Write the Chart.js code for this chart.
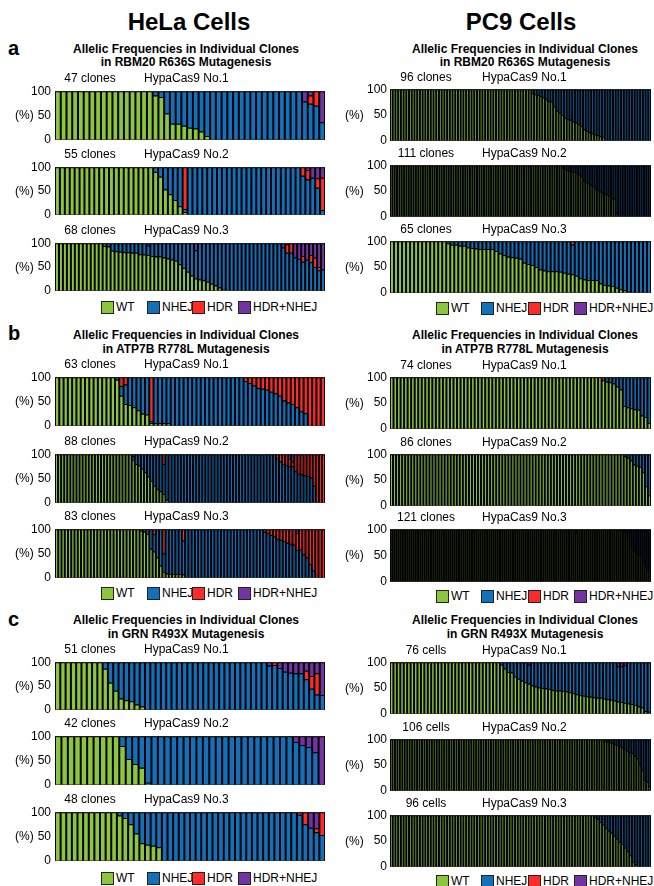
<!DOCTYPE html>
<html><head><meta charset="utf-8">
<script src="https://cdn.jsdelivr.net/npm/chart.js@4.4.1/dist/chart.umd.min.js"></script>
<style>
body{margin:0;width:654px;height:886px;background:#fff;position:relative;overflow:hidden;font-family:"Liberation Sans",Arial,Helvetica,sans-serif;color:#000}
.t{position:absolute;white-space:nowrap}
.box{position:absolute;width:11px;height:11px;border:1px solid #222}
canvas{position:absolute}
</style></head><body>
<script>
// ---------- DATA (percent of alleles per clone; order: WT, NHEJ, HDR, HDR+NHEJ) ----------
// HeLa, RBM20 R636S
const helaA1_wt = [
100,100,100,100,100,100,100,100,100,100,
100,100,100,100,100,100,100,91,88,54,
33,33,29,25,23,17,8,0,0,0,
0,0,0,0,0,0,0,0,0,0,
0,0,0,0,0,0,0];
const helaA1_nhej = [
0,0,0,0,0,0,0,0,0,0,
0,0,0,0,0,0,0,9,12,46,
67,67,71,75,77,83,92,100,100,100,
100,100,100,100,100,100,100,100,100,100,
100,100,100,79,74,70,36];
const helaA1_hdr = [
0,0,0,0,0,0,0,0,0,0,
0,0,0,0,0,0,0,0,0,0,
0,0,0,0,0,0,0,0,0,0,
0,0,0,0,0,0,0,0,0,0,
0,0,0,0,17,30,0];
const helaA1_hn = [
0,0,0,0,0,0,0,0,0,0,
0,0,0,0,0,0,0,0,0,0,
0,0,0,0,0,0,0,0,0,0,
0,0,0,0,0,0,0,0,0,0,
0,0,0,21,9,0,64];

const helaA2_wt = [
100,100,100,100,100,100,100,100,100,100,
100,100,100,100,100,100,100,100,100,100,
90,80,53,43,31,18,6,0,0,0,
0,0,0,0,0,0,0,0,0,0,
0,0,0,0,0,0,0,0,0,0,
0,0,0,0,0];
const helaA2_nhej = [
0,0,0,0,0,0,0,0,0,0,
0,0,0,0,0,0,0,0,0,0,
10,20,47,57,69,82,6,100,100,100,
100,100,100,100,100,100,100,100,100,100,
100,100,100,100,100,100,100,100,100,100,
82,74,78,57,10];
const helaA2_hdr = [
0,0,0,0,0,0,0,0,0,0,
0,0,0,0,0,0,0,0,0,0,
0,0,0,0,0,0,88,0,0,0,
0,0,0,0,0,0,0,0,0,0,
0,0,0,0,0,0,0,0,0,0,
18,20,0,20,68];
const helaA2_hn = [
0,0,0,0,0,0,0,0,0,0,
0,0,0,0,0,0,0,0,0,0,
0,0,0,0,0,0,0,0,0,0,
0,0,0,0,0,0,0,0,0,0,
0,0,0,0,0,0,0,0,0,0,
0,6,22,23,22];

const helaA3_wt = [
100,100,100,100,100,100,100,100,100,100,
100,100,94,93,84,83,82,81,81,80,
80,77,76,75,73,72,72,70,68,66,
63,56,48,40,32,26,24,22,19,15,
11,7,4,0,0,0,0,0,0,0,
0,0,0,0,0,0,0,0,0,0,
0,0,0,0,0,0,0,0];
const helaA3_nhej = [
0,0,0,0,0,0,0,0,0,0,
0,0,6,7,16,17,18,19,19,20,
20,23,24,20,27,28,28,30,32,34,
37,44,52,60,68,59,76,78,81,85,
89,93,96,100,100,100,100,100,100,100,
100,100,100,100,100,100,100,91,80,80,
70,67,61,65,60,50,43,45];
const helaA3_hdr = [
0,0,0,0,0,0,0,0,0,0,
0,0,0,0,0,0,0,0,0,0,
0,0,0,0,0,0,0,0,0,0,
0,0,0,0,0,0,0,0,0,0,
0,0,0,0,0,0,0,0,0,0,
0,0,0,0,0,0,0,0,18,20,
0,0,12,0,15,20,7,0];
const helaA3_hn = [
0,0,0,0,0,0,0,0,0,0,
0,0,0,0,0,0,0,0,0,0,
0,0,0,5,0,0,0,0,0,0,
0,0,0,0,0,15,0,0,0,0,
0,0,0,0,0,0,0,0,0,0,
0,0,0,0,0,0,0,9,2,0,
30,33,27,35,25,30,50,55];

// PC9, RBM20 R636S
const pc9A1_wt = [
100,100,100,100,100,100,100,100,100,100,
100,100,100,100,100,100,100,100,100,100,
100,100,100,100,100,100,100,100,100,100,
100,100,100,100,100,100,100,100,100,100,
100,100,100,100,100,100,100,100,100,100,
100,100,92,90,89,87,84,80,77,76,
66,58,55,50,44,42,41,38,35,32,
28,22,19,16,14,12,11,9,7,0,
0,0,0,0,0,0,0,0,0,0,
0,0,0,0,0,0];
const pc9A1_nhej = [
0,0,0,0,0,0,0,0,0,0,
0,0,0,0,0,0,0,0,0,0,
0,0,0,0,0,0,0,0,0,0,
0,0,0,0,0,0,0,0,0,0,
0,0,0,0,0,0,0,0,0,0,
0,0,8,10,11,13,16,20,23,24,
34,42,45,50,56,58,59,62,65,68,
72,78,81,84,86,88,89,91,93,100,
100,100,100,100,100,100,100,100,100,100,
100,100,100,100,100,100];

const pc9A2_wt = [
100,100,100,100,100,100,100,100,100,100,
100,100,100,100,100,100,100,100,100,100,
100,100,100,100,100,100,100,100,100,100,
100,100,100,100,100,100,100,100,100,100,
100,100,100,100,100,100,100,100,100,100,
100,100,100,100,100,100,100,100,100,100,
100,100,100,100,100,100,100,100,100,100,
100,100,100,95,92,90,89,88,87,85,
82,78,70,67,64,62,59,55,52,49,
46,45,43,41,36,35,7,0,0,0,
0,0,0,0,0,0,0,0,0,0,
0];
const pc9A2_nhej = [
0,0,0,0,0,0,0,0,0,0,
0,0,0,0,0,0,0,0,0,0,
0,0,0,0,0,0,0,0,0,0,
0,0,0,0,0,0,0,0,0,0,
0,0,0,0,0,0,0,0,0,0,
0,0,0,0,0,0,0,0,0,0,
0,0,0,0,0,0,0,0,0,0,
0,0,0,5,8,10,11,12,13,15,
18,22,30,33,36,38,41,45,48,51,
54,55,57,59,64,65,93,100,100,100,
100,100,100,100,100,100,100,100,100,100,
100];

const pc9A3_wt = [
100,100,100,100,100,100,100,100,100,100,
100,100,100,100,96,93,93,91,91,88,
87,86,85,85,85,85,81,76,73,70,
69,68,66,58,56,54,50,45,43,42,
42,42,41,39,37,36,33,28,26,25,
25,25,18,15,14,13,10,7,5,2,
0,0,0,0,0];
const pc9A3_nhej = [
0,0,0,0,0,0,0,0,0,0,
0,0,0,0,4,7,7,9,9,12,
13,14,15,15,15,15,19,24,27,30,
31,32,34,42,44,46,50,55,57,58,
58,58,59,61,63,57,67,72,74,75,
75,75,82,85,86,87,90,93,95,98,
100,100,100,100,100];
const pc9A3_hdr = [
0,0,0,0,0,0,0,0,0,0,
0,0,0,0,0,0,0,0,0,0,
0,0,0,0,0,0,0,0,0,0,
0,0,0,0,0,0,0,0,0,0,
0,0,0,0,0,7,0,0,0,0,
0,0,0,0,0,0,0,0,0,0,
0,0,0,0,0];

// HeLa, ATP7B R778L
const helaB1_wt = [
100,100,100,100,100,100,100,100,100,100,
100,100,100,100,95,62,45,43,38,32,
25,23,6,5,5,5,5,0,0,0,
0,0,0,0,0,0,0,0,0,0,
0,0,0,0,0,0,0,0,0,0,
0,0,0,0,0,0,0,0,0,0,
0,0,0];
const helaB1_nhej = [
0,0,0,0,0,0,0,0,0,0,
0,0,0,0,5,20,40,57,62,68,
75,77,4,95,95,95,95,100,100,100,
100,100,100,100,100,100,100,100,100,100,
100,100,100,100,92,88,83,78,76,74,
70,67,62,52,48,45,38,30,26,0,
0,0,0];
const helaB1_hdr = [
0,0,0,0,0,0,0,0,0,0,
0,0,0,0,0,18,15,0,0,0,
0,0,90,0,0,0,0,0,0,0,
0,0,0,0,0,0,0,0,0,0,
0,0,0,0,8,12,17,22,24,26,
30,33,38,48,52,55,62,70,74,100,
100,100,100];

const helaB2_wt = [
100,100,100,100,100,100,100,100,100,100,
100,100,100,100,100,100,100,100,100,100,
100,100,100,100,100,88,80,77,70,63,
54,45,35,28,24,18,7,0,0,0,
0,0,0,0,0,0,0,0,0,0,
0,0,0,0,0,0,0,0,0,0,
0,0,0,0,0,0,0,0,0,0,
0,0,0,0,0,0,0,0,0,0,
0,0,0,0,0,0,0,0];
const helaB2_nhej = [
0,0,0,0,0,0,0,0,0,0,
0,0,0,0,0,0,0,0,0,0,
0,0,0,0,0,8,20,23,30,37,
46,55,65,72,76,62,93,100,100,100,
100,100,100,100,100,100,100,100,100,100,
100,100,100,100,100,100,100,100,100,100,
100,100,100,100,100,100,100,100,100,100,
100,100,92,85,80,78,75,75,65,60,
58,56,55,52,35,0,0,0];
const helaB2_hdr = [
0,0,0,0,0,0,0,0,0,0,
0,0,0,0,0,0,0,0,0,0,
0,0,0,0,0,0,0,0,0,0,
0,0,0,0,0,20,0,0,0,0,
0,0,0,0,0,0,0,0,0,0,
0,0,0,0,0,0,0,0,0,0,
0,0,0,0,0,0,0,0,0,0,
0,0,8,15,20,22,15,10,35,40,
42,44,45,48,65,100,100,100];
const helaB2_hn = [
0,0,0,0,0,0,0,0,0,0,
0,0,0,0,0,0,0,0,0,0,
0,0,0,0,0,4,0,0,0,0,
0,0,0,0,0,0,0,0,0,0,
0,0,0,0,0,0,0,0,0,0,
0,0,0,0,0,0,0,0,0,0,
0,0,0,0,0,0,0,0,0,0,
0,0,0,0,0,0,10,15,0,0,
0,0,0,0,0,0,0,0];

const helaB3_wt = [
100,100,100,100,100,100,100,100,100,100,
100,100,100,100,100,100,100,100,100,100,
100,100,100,100,100,100,97,95,90,60,
54,42,25,12,9,8,8,8,8,7,
0,0,0,0,0,0,0,0,0,0,
0,0,0,0,0,0,0,0,0,0,
0,0,0,0,0,0,0,0,0,0,
0,0,0,0,0,0,0,0,0,0,
0,0,0];
const helaB3_nhej = [
0,0,0,0,0,0,0,0,0,0,
0,0,0,0,0,0,0,0,0,0,
0,0,0,0,0,0,3,5,10,40,
36,58,75,38,91,92,92,92,92,70,
100,100,100,100,100,100,100,100,100,100,
100,100,100,100,100,100,100,100,100,100,
100,100,100,100,95,92,88,85,80,78,
75,72,70,68,57,58,48,42,28,15,
0,0,0];
const helaB3_hdr = [
0,0,0,0,0,0,0,0,0,0,
0,0,0,0,0,0,0,0,0,0,
0,0,0,0,0,0,0,0,0,0,
10,0,0,50,0,0,0,0,0,23,
0,0,0,0,0,0,0,0,0,0,
0,0,0,0,0,0,0,0,0,0,
0,0,0,0,5,8,12,15,20,22,
25,28,30,32,35,42,52,58,72,85,
100,100,100];
const helaB3_hn = [
0,0,0,0,0,0,0,0,0,0,
0,0,0,0,0,0,0,0,0,0,
0,0,0,0,0,0,0,0,0,0,
0,0,0,0,0,0,0,0,0,0,
0,0,0,0,0,0,0,0,0,0,
0,0,0,0,0,0,0,0,0,0,
0,0,0,0,0,0,0,0,0,0,
0,0,0,0,8,0,0,0,0,0,
0,0,0];

// PC9, ATP7B R778L
const pc9B1_wt = [
100,100,100,100,100,100,100,100,100,100,
100,100,100,100,100,100,100,100,100,100,
100,100,100,100,100,100,100,100,100,100,
100,100,100,100,100,100,100,100,100,100,
100,100,100,100,100,100,100,100,100,100,
100,100,100,100,100,100,100,100,100,100,
94,91,90,88,82,76,44,42,40,38,
37,26,23,11];
const pc9B1_nhej = [
0,0,0,0,0,0,0,0,0,0,
0,0,0,0,0,0,0,0,0,0,
0,0,0,0,0,0,0,0,0,0,
0,0,0,0,0,0,0,0,0,0,
0,0,0,0,0,0,0,0,0,0,
0,0,0,0,0,0,0,0,0,0,
0,9,10,12,18,24,56,58,60,62,
63,74,77,89];
const pc9B1_hdr = [
0,0,0,0,0,0,0,0,0,0,
0,0,0,0,0,0,0,0,0,0,
0,0,0,0,0,0,0,0,0,0,
0,0,0,0,0,0,0,0,0,0,
0,0,0,0,0,0,0,0,0,0,
0,0,0,0,0,0,0,0,0,0,
6,0,0,0,0,0,0,0,0,0,
0,0,0,0];

const pc9B2_wt = [
100,100,100,100,100,100,100,100,100,100,
100,100,100,100,100,100,100,100,100,100,
100,100,100,100,100,100,100,100,100,100,
100,100,100,100,100,100,100,100,100,100,
100,100,100,100,100,100,100,100,100,100,
100,100,100,100,100,100,100,100,100,100,
100,100,100,100,100,100,100,100,100,100,
100,100,100,100,100,100,100,96,93,88,
80,77,75,65,38,20];
const pc9B2_nhej = [
0,0,0,0,0,0,0,0,0,0,
0,0,0,0,0,0,0,0,0,0,
0,0,0,0,0,0,0,0,0,0,
0,0,0,0,0,0,0,0,0,0,
0,0,0,0,0,0,0,0,0,0,
0,0,0,0,0,0,0,0,0,0,
0,0,0,0,0,0,0,0,0,0,
0,0,0,0,0,0,0,4,7,12,
20,23,25,35,62,80];

const pc9B3_wt = [
100,100,100,100,100,100,100,100,100,100,
100,100,100,100,100,100,100,100,100,100,
100,100,100,100,100,100,100,100,100,100,
100,100,100,100,100,100,100,100,100,100,
100,100,100,100,100,100,100,100,100,100,
100,100,100,100,100,100,100,100,100,100,
100,100,100,100,100,100,100,100,100,100,
100,100,100,100,100,100,100,100,100,100,
100,100,100,100,100,100,94,100,100,100,
100,100,100,100,100,100,100,100,100,100,
100,100,100,100,100,100,100,100,97,92,
85,70,62,58,55,52,50,40,30,25,
22];
const pc9B3_nhej = [
0,0,0,0,0,0,0,0,0,0,
0,0,0,0,0,0,0,0,0,0,
0,0,0,0,0,0,0,0,0,0,
0,0,0,0,0,0,0,0,0,0,
0,0,0,0,0,0,0,0,0,0,
0,0,0,0,0,0,0,0,0,0,
0,0,0,0,0,0,0,0,0,0,
0,0,0,0,0,0,0,0,0,0,
0,0,0,0,0,0,0,0,0,0,
0,0,0,0,0,0,0,0,0,0,
0,0,0,0,0,0,0,0,3,8,
15,30,38,42,45,48,50,60,70,75,
78];
const pc9B3_hdr = [
0,0,0,0,0,0,0,0,0,0,
0,0,0,0,0,0,0,0,0,0,
0,0,0,0,0,0,0,0,0,0,
0,0,0,0,0,0,0,0,0,0,
0,0,0,0,0,0,0,0,0,0,
0,0,0,0,0,0,0,0,0,0,
0,0,0,0,0,0,0,0,0,0,
0,0,0,0,0,0,0,0,0,0,
0,0,0,0,0,0,6,0,0,0,
0,0,0,0,0,0,0,0,0,0,
0,0,0,0,0,0,0,0,0,0,
0,0,0,0,0,0,0,0,0,0,
0];

// HeLa, GRN R493X
const helaC1_wt = [
100,100,100,100,100,100,100,100,100,86,
57,40,24,20,18,11,7,0,0,0,
0,0,0,0,0,0,0,0,0,0,
0,0,0,0,0,0,0,0,0,0,
0,0,0,0,0,0,0,0,0,0,
0];
const helaC1_nhej = [
0,0,0,0,0,0,0,0,0,14,
43,60,76,80,82,89,93,100,100,100,
100,100,100,100,100,100,100,100,100,100,
100,100,100,100,100,100,100,100,100,100,
93,94,88,80,78,77,77,64,44,32,
31];
const helaC1_hdr = [
0,0,0,0,0,0,0,0,0,0,
0,0,0,0,0,0,0,0,0,0,
0,0,0,0,0,0,0,0,0,0,
0,0,0,0,0,0,0,0,0,0,
0,6,0,0,0,0,0,18,27,45,
0];
const helaC1_hn = [
0,0,0,0,0,0,0,0,0,0,
0,0,0,0,0,0,0,0,0,0,
0,0,0,0,0,0,0,0,0,0,
0,0,0,0,0,0,0,0,0,0,
7,0,12,20,22,23,23,18,29,23,
69];

const helaC2_wt = [
100,100,100,100,100,100,100,100,100,100,
80,53,43,35,4,0,0,0,0,0,
0,0,0,0,0,0,0,0,0,0,
0,0,0,0,0,0,0,0,0,0,
0,0];
const helaC2_nhej = [
0,0,0,0,0,0,0,0,0,0,
20,47,57,65,96,100,100,100,100,100,
100,100,100,100,100,100,100,100,100,100,
100,100,100,100,100,100,100,88,82,78,
67,0];
const helaC2_hn = [
0,0,0,0,0,0,0,0,0,0,
0,0,0,0,0,0,0,0,0,0,
0,0,0,0,0,0,0,0,0,0,
0,0,0,0,0,0,0,12,18,22,
33,100];

const helaC3_wt = [
100,100,100,100,100,100,100,100,100,100,
100,93,88,75,56,36,33,31,28,0,
0,0,0,0,0,0,0,0,0,0,
0,0,0,0,0,0,0,0,0,0,
0,0,0,0,0,0,0,0];
const helaC3_nhej = [
0,0,0,0,0,0,0,0,0,0,
0,7,12,25,44,64,67,69,72,100,
100,100,100,100,100,100,100,100,100,100,
100,100,100,100,100,100,100,100,100,100,
100,100,100,95,75,68,59,53];
const helaC3_hdr = [
0,0,0,0,0,0,0,0,0,0,
0,0,0,0,0,0,0,0,0,0,
0,0,0,0,0,0,0,0,0,0,
0,0,0,0,0,0,0,0,0,0,
0,0,0,5,25,0,8,47];
const helaC3_hn = [
0,0,0,0,0,0,0,0,0,0,
0,0,0,0,0,0,0,0,0,0,
0,0,0,0,0,0,0,0,0,0,
0,0,0,0,0,0,0,0,0,0,
0,0,0,0,0,32,33,0];

// PC9, GRN R493X
const pc9C1_wt = [
100,100,100,100,100,100,100,100,100,100,
100,100,100,100,100,100,100,100,100,100,
100,100,100,100,100,100,100,100,100,100,
100,100,95,88,81,80,72,68,64,61,
58,55,53,51,50,49,48,46,45,45,
44,43,42,40,38,36,35,34,33,32,
31,31,29,28,27,26,24,23,21,20,
19,17,14,12,5,4];
const pc9C1_nhej = [
0,0,0,0,0,0,0,0,0,0,
0,0,0,0,0,0,0,0,0,0,
0,0,0,0,0,0,0,0,0,0,
0,0,5,12,19,20,28,32,36,39,
37,45,47,49,50,51,52,54,55,55,
56,57,58,60,62,64,65,66,67,68,
69,69,71,72,73,74,68,69,73,80,
81,83,86,88,95,96];
const pc9C1_hn = [
0,0,0,0,0,0,0,0,0,0,
0,0,0,0,0,0,0,0,0,0,
0,0,0,0,0,0,0,0,0,0,
0,0,0,0,0,0,0,0,0,0,
5,0,0,0,0,0,0,0,0,0,
0,0,0,0,0,0,0,0,0,0,
0,0,0,0,0,0,8,8,6,0,
0,0,0,0,0,0];

const pc9C2_wt = [
100,100,100,100,100,100,100,100,100,100,
100,100,100,100,100,100,100,100,100,100,
100,100,100,100,100,100,100,100,100,100,
100,100,100,100,100,100,100,100,100,100,
100,100,100,100,100,100,100,100,100,100,
100,100,100,100,100,100,100,100,100,100,
100,100,100,100,100,100,100,100,100,100,
100,100,100,100,100,100,100,100,100,100,
100,100,100,100,100,100,100,97,95,93,
92,90,89,86,84,81,77,75,73,68,
63,51,40,21,17,9];
const pc9C2_nhej = [
0,0,0,0,0,0,0,0,0,0,
0,0,0,0,0,0,0,0,0,0,
0,0,0,0,0,0,0,0,0,0,
0,0,0,0,0,0,0,0,0,0,
0,0,0,0,0,0,0,0,0,0,
0,0,0,0,0,0,0,0,0,0,
0,0,0,0,0,0,0,0,0,0,
0,0,0,0,0,0,0,0,0,0,
0,0,0,0,0,0,0,3,5,7,
8,10,11,14,16,19,23,25,27,32,
37,49,60,79,83,91];

const pc9C3_wt = [
100,100,100,100,100,100,100,100,100,100,
100,100,100,100,100,100,100,100,100,100,
100,100,100,100,100,100,100,100,100,100,
100,100,100,100,100,100,100,100,100,100,
100,100,100,100,100,100,100,100,100,100,
100,100,100,100,100,100,100,100,100,100,
100,100,100,100,100,100,100,100,100,100,
100,100,100,100,100,96,93,87,82,75,
70,66,60,55,48,44,37,30,22,10,
5,0,0,0,0,0];
const pc9C3_nhej = [
0,0,0,0,0,0,0,0,0,0,
0,0,0,0,0,0,0,0,0,0,
0,0,0,0,0,0,0,0,0,0,
0,0,0,0,0,0,0,0,0,0,
0,0,0,0,0,0,0,0,0,0,
0,0,0,0,0,0,0,0,0,0,
0,0,0,0,0,0,0,0,0,0,
0,0,0,0,0,4,7,13,18,25,
30,34,40,45,52,56,63,70,78,90,
95,100,100,100,100,100];

// ---------- TEXT ----------
const categories = ['WT','NHEJ','HDR','HDR+NHEJ'];
const columnTitles = ['HeLa Cells','PC9 Cells'];
const panelLetters = ['a','b','c'];
const panelTitle1 = 'Allelic Frequencies in Individual Clones';
const panelTitle2 = ['in RBM20 R636S Mutagenesis','in ATP7B R778L Mutagenesis','in GRN R493X Mutagenesis'];
const yTicks = [0,50,100];

// ---------- LAYOUT ----------
const COL = [{x:55,w:270,leg:[101,147,192,238],ttl:186,head:189,pct:15,cnt:35,nm:89,tp:4},
             {x:390,w:261,leg:[436,481,528,574],ttl:525,head:521,pct:345,cnt:36,nm:92,tp:3}];
const COLORS = ['#8cc63f','#1470b8','#ff2b2b','#7433a2'];
const FONT = '"Liberation Sans", Arial, Helvetica, sans-serif';

const charts = [
 {col:0,y:88,h:55,cnt:'47 clones',nm:'HypaCas9 No.1',d:[helaA1_wt,helaA1_nhej,helaA1_hdr,helaA1_hn]},
 {col:0,y:164,h:54,cnt:'55 clones',nm:'HypaCas9 No.2',d:[helaA2_wt,helaA2_nhej,helaA2_hdr,helaA2_hn]},
 {col:0,y:240,h:54,cnt:'68 clones',nm:'HypaCas9 No.3',d:[helaA3_wt,helaA3_nhej,helaA3_hdr,helaA3_hn]},
 {col:1,y:87,h:56,cnt:'96 clones',nm:'HypaCas9 No.1',d:[pc9A1_wt,pc9A1_nhej,[],[]]},
 {col:1,y:163,h:56,cnt:'111 clones',nm:'HypaCas9 No.2',d:[pc9A2_wt,pc9A2_nhej,[],[]]},
 {col:1,y:239,h:56,cnt:'65 clones',nm:'HypaCas9 No.3',d:[pc9A3_wt,pc9A3_nhej,pc9A3_hdr,[]]},
 {col:0,y:374,h:55,cnt:'63 clones',nm:'HypaCas9 No.1',d:[helaB1_wt,helaB1_nhej,helaB1_hdr,[]]},
 {col:0,y:451,h:55,cnt:'88 clones',nm:'HypaCas9 No.2',d:[helaB2_wt,helaB2_nhej,helaB2_hdr,helaB2_hn]},
 {col:0,y:526,h:55,cnt:'83 clones',nm:'HypaCas9 No.3',d:[helaB3_wt,helaB3_nhej,helaB3_hdr,helaB3_hn]},
 {col:1,y:375,h:56,cnt:'74 clones',nm:'HypaCas9 No.1',d:[pc9B1_wt,pc9B1_nhej,pc9B1_hdr,[]]},
 {col:1,y:452,h:56,cnt:'86 clones',nm:'HypaCas9 No.2',d:[pc9B2_wt,pc9B2_nhej,[],[]]},
 {col:1,y:527,h:57,cnt:'121 clones',nm:'HypaCas9 No.3',d:[pc9B3_wt,pc9B3_nhej,pc9B3_hdr,[]]},
 {col:0,y:659,h:54,cnt:'51 clones',nm:'HypaCas9 No.1',d:[helaC1_wt,helaC1_nhej,helaC1_hdr,helaC1_hn]},
 {col:0,y:733,h:55,cnt:'42 clones',nm:'HypaCas9 No.2',d:[helaC2_wt,helaC2_nhej,[],helaC2_hn]},
 {col:0,y:809,h:55,cnt:'48 clones',nm:'HypaCas9 No.3',d:[helaC3_wt,helaC3_nhej,helaC3_hdr,helaC3_hn]},
 {col:1,y:660,h:56,cnt:'76 cells',nm:'HypaCas9 No.1',d:[pc9C1_wt,pc9C1_nhej,[],pc9C1_hn]},
 {col:1,y:737,h:56,cnt:'106 cells',nm:'HypaCas9 No.2',d:[pc9C2_wt,pc9C2_nhej,[],[]]},
 {col:1,y:813,h:56,cnt:'96 cells',nm:'HypaCas9 No.3',d:[pc9C3_wt,pc9C3_nhej,[],[]]}
];
const panels = [{letterY:48,t1:49,t2:62,leg:[307,308]},
                {letterY:333,t1:335,t2:349,leg:[593,596]},
                {letterY:619,t1:620,t2:634,leg:[878,881]}];

function txt(s, x, cy, size, bold, align){
  const d = document.createElement('div');
  d.className = 't';
  d.textContent = s;
  const lh = Math.round(size*1.25);
  d.style.fontSize = size+'px';
  d.style.lineHeight = lh+'px';
  d.style.top = (cy - lh/2)+'px';
  if (bold) d.style.fontWeight = 'bold';
  if (align === 'center'){ d.style.left=(x-250)+'px'; d.style.width='500px'; d.style.textAlign='center'; }
  else if (align === 'right'){ d.style.right=(654-x)+'px'; }
  else d.style.left = x+'px';
  document.body.appendChild(d);
  return d;
}

// headings
columnTitles.forEach((s,i)=>txt(s, COL[i].head, 22, 24, true, 'center'));
panels.forEach((p,pi)=>{
  txt(panelLetters[pi], 8, p.letterY, 20, true, 'left');
  COL.forEach((c,ci)=>{
    txt(panelTitle1, c.ttl, p.t1, 12, true, 'center');
    txt(panelTitle2[pi], c.ttl, p.t2, 12, true, 'center');
    categories.forEach((cat,k)=>{
      const b = document.createElement('div');
      b.className='box';
      b.style.left = c.leg[k]+'px';
      b.style.top = (p.leg[ci]-6)+'px';
      b.style.background = COLORS[k];
      document.body.appendChild(b);
      txt(cat, c.leg[k]+15, p.leg[ci]+0.5, 12, false, 'left');
    });
  });
});

// dark plot backdrop so thin seams between bars stay dark like the original print
const plotBackdrop = {
  id:'plotBackdrop',
  beforeDatasetsDraw(chart){
    const a = chart.chartArea, ctx = chart.ctx;
    ctx.save(); ctx.fillStyle = '#000';
    ctx.fillRect(a.left, a.top, a.right - a.left, a.bottom - a.top);
    ctx.restore();
  }
};

const AX = 44, PAD = 8;
charts.forEach((c)=>{
  const col = COL[c.col];
  const cv = document.createElement('canvas');
  const W = col.w + AX, H = c.h + 2*PAD;
  cv.width = W; cv.height = H;
  cv.style.left = (col.x - AX)+'px'; cv.style.top = (c.y - PAD)+'px';
  cv.style.width = W+'px'; cv.style.height = H+'px';
  document.body.appendChild(cv);
  const labels = c.d[0].map((_,i)=>String(i+1));
  const datasets = categories.map((cat,k)=>({
    label:cat, data:c.d[k], backgroundColor:COLORS[k], borderColor:'#000', borderWidth:1,
    barPercentage:1, categoryPercentage:1, inflateAmount:0
  }));
  new Chart(cv, {
    type:'bar',
    data:{labels, datasets},
    plugins:[plotBackdrop],
    options:{
      responsive:false, animation:false, devicePixelRatio:1,
      layout:{padding:{top:PAD,bottom:PAD,left:0,right:0}},
      plugins:{legend:{display:false}, tooltip:{enabled:false}},
      scales:{
        x:{display:false, stacked:true},
        y:{stacked:true, min:0, max:100,
           afterFit(s){ s.width = AX; },
           afterBuildTicks(s){ s.ticks = yTicks.map(v=>({value:v})); },
           ticks:{padding:col.tp, color:'#000', font:{family:FONT, size:12}},
           grid:{display:false, drawTicks:false, tickLength:0}, border:{display:false}}
      }
    }
  });
  txt(c.cnt, col.x + col.cnt, c.y - 10, 12, false, 'center');
  txt(c.nm, col.x + col.nm, c.y - 10, 12, false, 'left');
  txt('(%)', col.pct, c.y + c.h/2, 12, false, 'left');
});
</script>
</body></html>
